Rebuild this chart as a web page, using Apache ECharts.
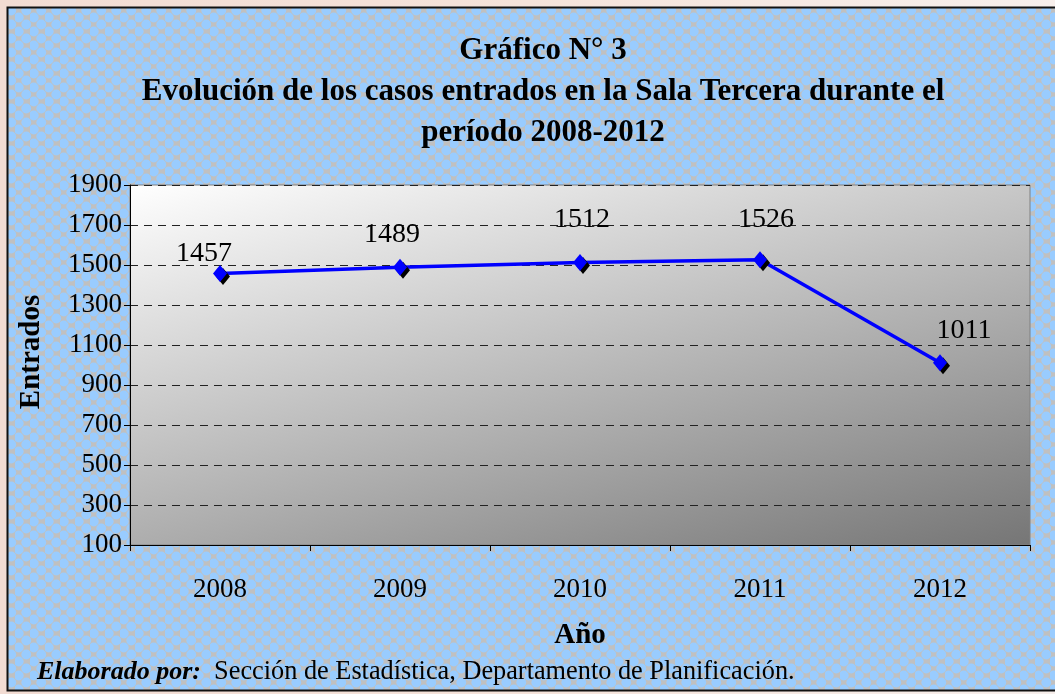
<!DOCTYPE html>
<html>
<head>
<meta charset="utf-8">
<script src="https://cdn.jsdelivr.net/npm/echarts@6/dist/echarts.min.js"></script>
<style>
html,body{margin:0;padding:0;background:#f4e2da;}
#main{width:1055px;height:694px;}
</style>
</head>
<body>
<div id="main"></div>
<script>
var categories = ['2008', '2009', '2010', '2011', '2012'];
var entrados = [1457, 1489, 1512, 1526, 1011];
var yTicks = [100, 300, 500, 700, 900, 1100, 1300, 1500, 1700, 1900];
var labelOffsets = [[-16, 8], [-8, -5], [2, -15], [6, -13], [24, -5]];

function makePattern() {
  var c = document.createElement('canvas');
  c.width = 15; c.height = 14;
  var ctx = c.getContext('2d');
  ctx.fillStyle = '#c0c0c0';
  ctx.fillRect(0, 0, 15, 14);
  ctx.fillStyle = '#99ccff';
  var pts = [[3.75, 3.5], [11.25, 10.5], [-3.75, 10.5], [18.75, 10.5], [3.75, 17.5], [11.25, -3.5]];
  pts.forEach(function (p) {
    ctx.beginPath(); ctx.arc(p[0], p[1], 4.9, 0, Math.PI * 2); ctx.fill();
  });
  return c;
}

var chart = echarts.init(document.getElementById('main'), null, {renderer: 'canvas'});
var serif = '"Liberation Serif", "DejaVu Serif", serif';
var option = {
  animation: false,
  backgroundColor: new echarts.graphic.LinearGradient(0, 0, 1, 0, [
    {offset: 0, color: '#f2dcd3'}, {offset: 0.5, color: '#f5e3da'}, {offset: 1, color: '#f7efec'}
  ]),
  graphic: [
    {
      type: 'rect', z: -10,
      shape: {x: 7.5, y: 7.5, width: 1060, height: 683},
      style: {fill: {image: makePattern(), repeat: 'repeat'}, stroke: '#111', lineWidth: 2}
    },
    {
      type: 'text', left: 37, top: 659,
      style: {
        text: '{b|Elaborado por:}  Sección de Estadística, Departamento de Planificación.',
        rich: {
          b: {fontFamily: serif, fontSize: 26, fontWeight: 'bold', fontStyle: 'italic', fill: '#000'}
        },
        fontFamily: serif, fontSize: 26.3, fill: '#000'
      }
    }
  ],
  title: {
    text: 'Gráfico N° 3\nEvolución de los casos entrados en la Sala Tercera durante el\nperíodo 2008-2012',
    left: 538, top: 25, textAlign: 'center',
    textStyle: {fontFamily: serif, fontSize: 31, fontWeight: 'bold', color: '#000', lineHeight: 41}
  },
  grid: {
    left: 130, top: 185, width: 900, height: 360,
    show: true, borderColor: '#808080', borderWidth: 1,
    backgroundColor: new echarts.graphic.LinearGradient(0, 0, 0.17, 1.56, [
      {offset: 0, color: '#ffffff'}, {offset: 1, color: '#767676'}
    ])
  },
  xAxis: {
    type: 'category', data: categories, boundaryGap: true,
    name: 'Año', nameLocation: 'middle', nameGap: 76,
    nameTextStyle: {fontFamily: serif, fontSize: 29, fontWeight: 'bold', color: '#000'},
    axisLine: {lineStyle: {color: '#000', width: 1}},
    axisTick: {show: true, alignWithLabel: false, length: 6, lineStyle: {color: '#000'}},
    axisLabel: {fontFamily: serif, fontSize: 27, color: '#000', margin: 31}
  },
  yAxis: {
    type: 'value', min: 100, max: 1900, interval: 200,
    name: 'Entrados', nameLocation: 'middle', nameGap: 84,
    nameTextStyle: {fontFamily: serif, fontSize: 29, fontWeight: 'bold', color: '#000', padding: [0, 0, 0, 26]},
    axisLine: {show: true, lineStyle: {color: '#000', width: 1}},
    axisTick: {show: true, length: 6, lineStyle: {color: '#000'}},
    axisLabel: {fontFamily: serif, fontSize: 27, color: '#000', margin: 8,
      formatter: function (v) { return yTicks.indexOf(v) >= 0 ? String(v) : ''; }},
    splitLine: {show: true, lineStyle: {color: '#222', type: [8, 6], width: 1}}
  },
  series: [{
    type: 'line', data: entrados.map(function (v, i) {
      return {value: v, label: {offset: labelOffsets[i]}};
    }),
    symbol: 'diamond', symbolSize: [14, 17],
    lineStyle: {color: '#0000ff', width: 3.5},
    itemStyle: {color: '#0000ff', shadowColor: '#000', shadowOffsetX: 3, shadowOffsetY: 3, shadowBlur: 0},
    label: {show: true, position: 'top', distance: 5, fontFamily: serif, fontSize: 28, color: '#000'}
  }]
};
chart.setOption(option);
</script>
</body>
</html>
